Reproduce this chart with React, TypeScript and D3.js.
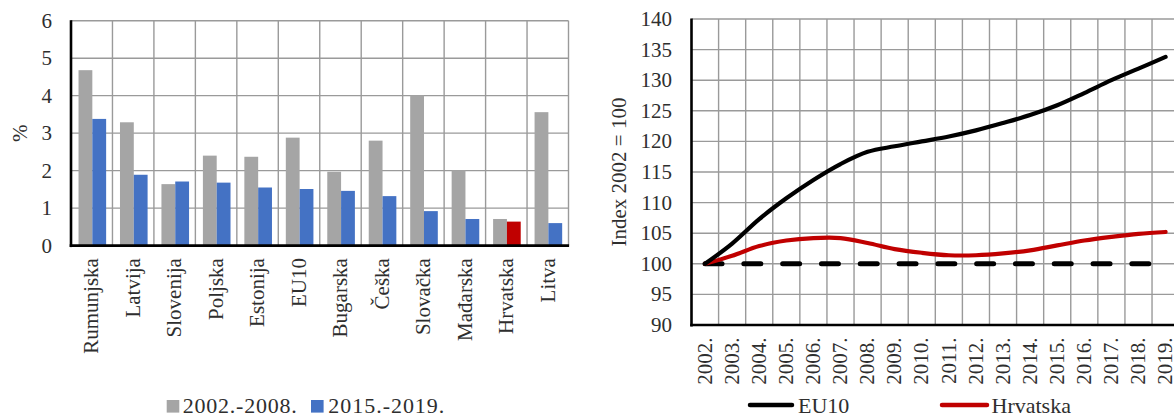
import React from "react";
import * as d3 from "d3";

const countries = ["Rumunjska", "Latvija", "Slovenija", "Poljska", "Estonija", "EU10", "Bugarska", "Češka", "Slovačka", "Mađarska", "Hrvatska", "Litva"];
const growth0208 = [4.68, 3.29, 1.64, 2.40, 2.37, 2.88, 1.97, 2.80, 4.01, 2.01, 0.71, 3.56];
const growth1519 = [3.38, 1.89, 1.71, 1.68, 1.55, 1.51, 1.46, 1.32, 0.92, 0.71, 0.64, 0.60];
const barTicks = [0, 1, 2, 3, 4, 5, 6];

const years = ["2002.", "2003.", "2004.", "2005.", "2006.", "2007.", "2008.", "2009.", "2010.", "2011.", "2012.", "2013.", "2014.", "2015.", "2016.", "2017.", "2018.", "2019."];
const eu10 = [100, 103.3, 107.3, 110.7, 113.7, 116.3, 118.3, 119.2, 120.0, 120.8, 121.8, 123.0, 124.3, 125.9, 127.9, 130.0, 131.9, 133.8];
const hrvatska = [100, 101.3, 102.9, 103.8, 104.2, 104.2, 103.4, 102.4, 101.8, 101.4, 101.4, 101.7, 102.2, 103.0, 103.8, 104.4, 104.9, 105.2];
const baseline = years.map(() => 100);
const lineTicks = [90, 95, 100, 105, 110, 115, 120, 125, 130, 135, 140];

const FONT = "'Liberation Serif', 'Times New Roman', serif";
const TXT = "#2e2e2e";
const GRID = "#9a9a9a";
const GRAY = "#a5a5a5";
const BLUE = "#4472c4";
const RED = "#c00000";

export default function App() {
  // left bar chart
  const L = { x0: 71, x1: 568.5, top: 20.7, bot: 245.6 };
  const xb = d3.scaleBand<string>().domain(countries).range([L.x0, L.x1]).padding(0);
  const yb = d3.scaleLinear().domain([0, 6]).range([L.bot, L.top]);
  const bw = xb.bandwidth();
  const barW = bw * 0.333;
  const barOff = (bw - 2 * barW) / 2 + 0.6;

  // right line chart
  const R = { x0: 691.5, top: 19, bot: 325 };
  const step = 27.09;
  const xl = d3.scaleBand<string>().domain(years).range([R.x0, R.x0 + step * years.length]).padding(0);
  const yl = d3.scaleLinear().domain([90, 140]).range([R.bot, R.top]);
  const R_x1 = R.x0 + step * years.length;
  const lineGen = d3
    .line<number>()
    .x((_, i) => (xl(years[i]) as number) + xl.bandwidth() / 2)
    .y((d) => yl(d))
    .curve(d3.curveCatmullRom.alpha(0.5));
  const straight = d3
    .line<number>()
    .x((_, i) => (xl(years[i]) as number) + xl.bandwidth() / 2)
    .y((d) => yl(d));

  return (
    <svg
      width={1174}
      height={416}
      style={{ position: "absolute", left: 0, top: 0, background: "#fff" }}
      fontFamily={FONT}
    >
      <rect x={0} y={0} width={1174} height={416} fill="#fff" />
      {/* ---------- LEFT CHART ---------- */}
      <g>
        {barTicks.slice(1).map((t) => (
          <line key={"hg" + t} x1={L.x0} x2={L.x1} y1={yb(t)} y2={yb(t)} stroke={GRID} strokeWidth={1.4} />
        ))}
        {countries.map((c) => (
          <line key={"vg" + c} x1={(xb(c) as number) + bw} x2={(xb(c) as number) + bw} y1={L.top} y2={L.bot} stroke={GRID} strokeWidth={1.4} />
        ))}
        {countries.map((c, i) => (
          <g key={"b" + c}>
            <rect x={(xb(c) as number) + barOff} y={yb(growth0208[i])} width={barW} height={L.bot - yb(growth0208[i])} fill={GRAY} />
            <rect
              x={(xb(c) as number) + barOff + barW}
              y={yb(growth1519[i])}
              width={barW}
              height={L.bot - yb(growth1519[i])}
              fill={c === "Hrvatska" ? RED : BLUE}
            />
          </g>
        ))}
        <line x1={L.x0} x2={L.x0} y1={L.top - 0.5} y2={L.bot + 1.5} stroke="#000" strokeWidth={2.6} />
        <line x1={L.x0 - 1.3} x2={L.x1 + 0.6} y1={L.bot} y2={L.bot} stroke="#000" strokeWidth={2.6} />
        {barTicks.map((t) => (
          <text key={"yt" + t} x={52} y={yb(t)} dy="0.33em" textAnchor="end" fontSize={21} fill={TXT}>
            {t}
          </text>
        ))}
        <text transform={`translate(27,${(L.top + L.bot) / 2}) rotate(-90)`} textAnchor="middle" fontSize={21} fill={TXT}>
          %
        </text>
        {countries.map((c) => (
          <text
            key={"xl" + c}
            transform={`translate(${(xb(c) as number) + bw / 2},${L.bot + 12.5}) rotate(-90)`}
            textAnchor="end"
            dy="0.32em"
            fontSize={21}
            fill={TXT}
          >
            {c}
          </text>
        ))}
        {/* legend */}
        <rect x={166.7} y={400} width={12.6} height={12.6} fill={GRAY} />
        <text x={182.7} y={413.3} fontSize={22} fill={TXT} textLength={114} lengthAdjust="spacing">2002.-2008.</text>
        <rect x={311} y={400} width={12.6} height={12.6} fill={BLUE} />
        <text x={328.3} y={413.3} fontSize={22} fill={TXT} textLength={116} lengthAdjust="spacing">2015.-2019.</text>
      </g>

      {/* ---------- RIGHT CHART ---------- */}
      <g>
        {lineTicks.slice(1).map((t) => (
          <line key={"rhg" + t} x1={R.x0} x2={R_x1} y1={yl(t)} y2={yl(t)} stroke={GRID} strokeWidth={1.4} />
        ))}
        {years.map((yv) => (
          <line key={"rvg" + yv} x1={(xl(yv) as number) + step} x2={(xl(yv) as number) + step} y1={R.top} y2={R.bot} stroke={GRID} strokeWidth={1.4} />
        ))}
        <path d={straight(baseline) as string} fill="none" stroke="#000" strokeWidth={5} strokeDasharray="17 21.8" strokeLinecap="round" />
        <path d={lineGen(hrvatska) as string} fill="none" stroke={RED} strokeWidth={4.2} strokeLinecap="round" strokeLinejoin="round" />
        <path d={lineGen(eu10) as string} fill="none" stroke="#000" strokeWidth={4.2} strokeLinecap="round" strokeLinejoin="round" />
        <line x1={R.x0} x2={R.x0} y1={R.top - 0.5} y2={R.bot + 1.5} stroke="#000" strokeWidth={2.6} />
        <line x1={R.x0 - 1.3} x2={R_x1} y1={R.bot} y2={R.bot} stroke="#000" strokeWidth={2.6} />
        {lineTicks.map((t) => (
          <text key={"ryt" + t} x={672} y={yl(t)} dy="0.33em" textAnchor="end" fontSize={21} fill={TXT}>
            {t}
          </text>
        ))}
        <text transform={`translate(626,${(R.top + R.bot) / 2}) rotate(-90)`} textAnchor="middle" fontSize={21} fill={TXT}>
          Index 2002 = 100
        </text>
        {years.map((yv) => (
          <text
            key={"rxl" + yv}
            transform={`translate(${(xl(yv) as number) + step / 2},${R.bot + 12.5}) rotate(-90)`}
            textAnchor="end"
            dy="0.32em"
            fontSize={21}
            fill={TXT}
          >
            {yv}
          </text>
        ))}
        {/* legend */}
        <line x1={750} x2={792} y1={405} y2={405} stroke="#000" strokeWidth={4.5} strokeLinecap="round" />
        <text x={798} y={413} fontSize={22} fill={TXT}>EU10</text>
        <line x1={942} x2={987} y1={405} y2={405} stroke={RED} strokeWidth={4.5} strokeLinecap="round" />
        <text x={991.5} y={413} fontSize={22} fill={TXT}>Hrvatska</text>
      </g>
    </svg>
  );
}
